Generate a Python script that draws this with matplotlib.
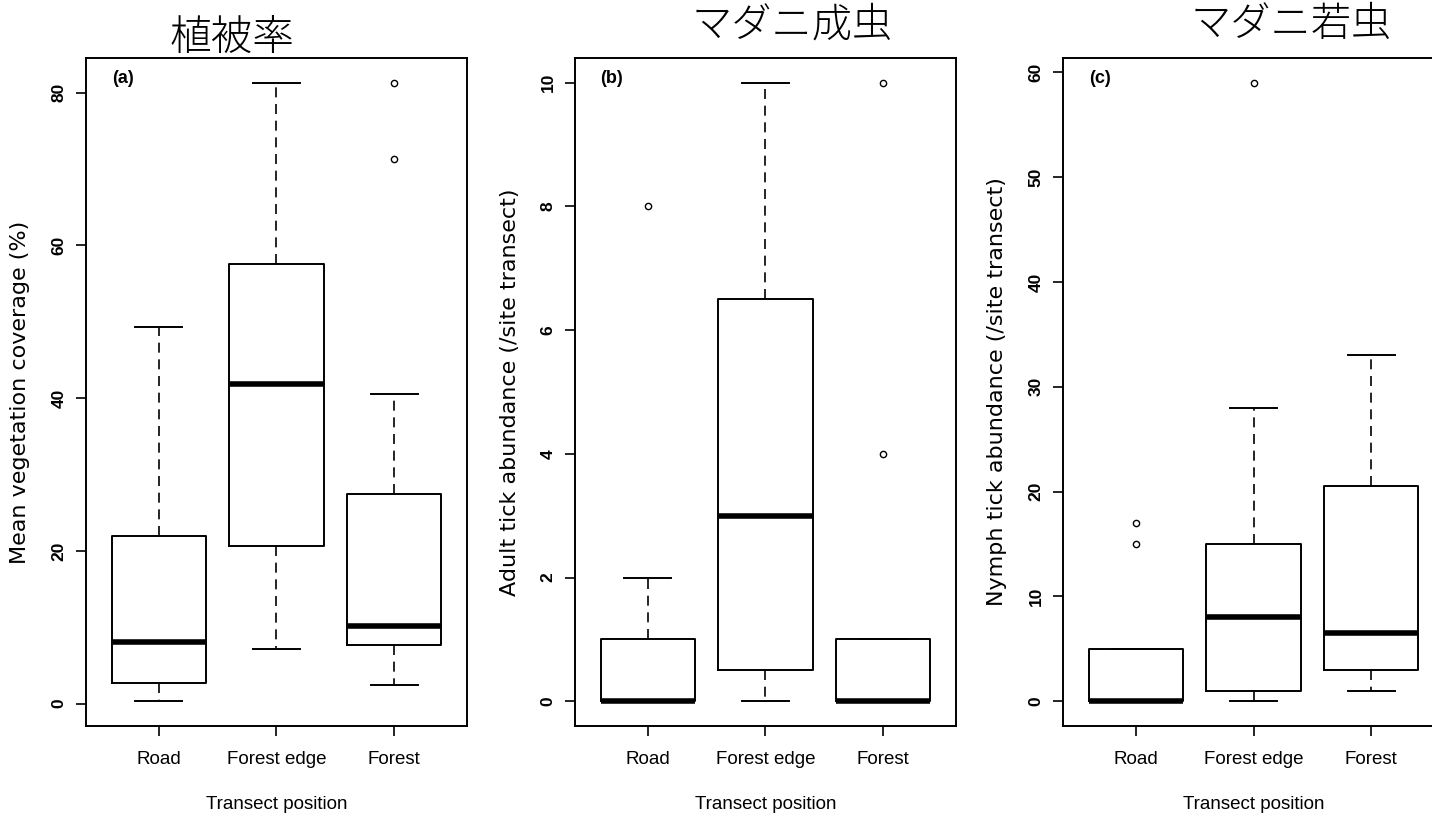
import matplotlib
matplotlib.use("Agg")
import matplotlib.pyplot as plt

# ---------------- data ----------------
categories = ["Road", "Forest edge", "Forest"]

titles = ["植被率", "マダニ成虫", "マダニ若虫"]
panel_labels = ["(a)", "(b)", "(c)"]
ylabels = ["Mean vegetation coverage (%)",
           "Adult tick abundance (/site transect)",
           "Nymph tick abundance (/site transect)"]
xlabel = "Transect position"

# (a) vegetation coverage
veg_whislo = [0.3, 7.2, 2.4]
veg_q1 = [2.65, 20.6, 7.7]
veg_med = [8.0, 41.9, 10.2]
veg_q3 = [22.0, 57.5, 27.4]
veg_whishi = [49.3, 81.3, 40.5]
veg_fliers = [[], [], [71.3, 81.3]]
veg_ticks = [0, 20, 40, 60, 80]

# (b) adult ticks
adult_whislo = [0, 0, 0]
adult_q1 = [0, 0.5, 0]
adult_med = [0, 3, 0]
adult_q3 = [1, 6.5, 1]
adult_whishi = [2, 10, 1]
adult_fliers = [[8], [], [4, 10]]
adult_ticks = [0, 2, 4, 6, 8, 10]

# (c) nymph ticks
nymph_whislo = [0, 0, 1]
nymph_q1 = [0, 1, 3]
nymph_med = [0, 8, 6.5]
nymph_q3 = [5, 15, 20.5]
nymph_whishi = [5, 28, 33]
nymph_fliers = [[15, 17], [59], []]
nymph_ticks = [0, 10, 20, 30, 40, 50, 60]

panels = [
    (veg_whislo, veg_q1, veg_med, veg_q3, veg_whishi, veg_fliers, veg_ticks),
    (adult_whislo, adult_q1, adult_med, adult_q3, adult_whishi, adult_fliers, adult_ticks),
    (nymph_whislo, nymph_q1, nymph_med, nymph_q3, nymph_whishi, nymph_fliers, nymph_ticks),
]

# ---------------- layout ----------------
W, H = 1432, 816
fig = plt.figure(figsize=(W / 100, H / 100), dpi=100)
fig.patch.set_facecolor("white")

ax_left_px = [86, 575, 1063]
ax_w_px = 381
ax_top_px, ax_bot_px = 58, 726
title_pos = [(232, 38, 30), (792, 26, 29), (1291, 25, 29)]
ylabel_x_px = [20, 510, 997]

narrow = ["Liberation Sans Narrow", "Liberation Sans", "DejaVu Sans"]
sans = ["Liberation Sans", "DejaVu Sans"]
wide = ["DejaVu Sans"]
cjk = ["Noto Sans CJK JP", "DejaVu Sans"]

LW = 1.4
for i, (wlo, q1, med, q3, whi, fl, ticks) in enumerate(panels):
    ax = fig.add_axes([ax_left_px[i] / W, 1 - ax_bot_px / H,
                       ax_w_px / W, (ax_bot_px - ax_top_px) / H])
    stats = []
    for k, name in enumerate(categories):
        stats.append(dict(label=name, whislo=wlo[k], q1=q1[k], med=med[k],
                          q3=q3[k], whishi=whi[k], fliers=fl[k]))
    ax.bxp(stats, positions=[1, 2, 3], widths=0.8, capwidths=0.4,
           showfliers=True, patch_artist=False,
           boxprops=dict(color="black", linewidth=LW),
           medianprops=dict(color="black", linewidth=4.0, solid_capstyle="butt"),
           whiskerprops=dict(color="black", linewidth=1.2, linestyle=(0, (6, 4))),
           capprops=dict(color="black", linewidth=LW),
           flierprops=dict(marker="o", markersize=4.5, markerfacecolor="white",
                           markeredgecolor="black", markeredgewidth=1.0))

    allv = wlo + whi + [v for f in fl for v in f]
    lo, hi = min(allv), max(allv)
    pad = 0.04 * (hi - lo)
    ax.set_ylim(lo - pad, hi + pad)
    ax.set_xlim(0.38, 3.62)

    ax.set_yticks(ticks)
    ax.set_yticklabels([str(t) for t in ticks], rotation=90, va="center",
                       fontsize=12.5, family=sans, fontweight="bold")
    ax.set_xticks([1, 2, 3])
    ax.set_xticklabels(categories, fontsize=13.5, family=narrow)
    ax.tick_params(axis="both", direction="out", length=7, width=1.2, color="black")
    ax.tick_params(axis="y", pad=7)
    ax.tick_params(axis="x", pad=11)
    for s in ax.spines.values():
        s.set_linewidth(LW)
        s.set_color("black")

    ax.set_xlabel(xlabel, fontsize=13.5, family=narrow)
    ax.xaxis.set_label_coords(0.5, -(796 - ax_bot_px) / (ax_bot_px - ax_top_px))
    ax.set_ylabel(ylabels[i], fontsize=16, family=wide, va="center")
    ax.yaxis.set_label_coords((ylabel_x_px[i] - ax_left_px[i]) / ax_w_px, 0.5)

    ax.text(0.097, 0.970, panel_labels[i], transform=ax.transAxes,
            ha="center", va="center", fontsize=13, fontweight="bold", family=narrow)

    tx, ty, ts = title_pos[i]
    fig.text(tx / W, 1 - ty / H, titles[i], ha="center", va="center",
             fontsize=ts, family=cjk, fontweight="light")

fig.savefig("out.png", dpi=100, facecolor="white")
